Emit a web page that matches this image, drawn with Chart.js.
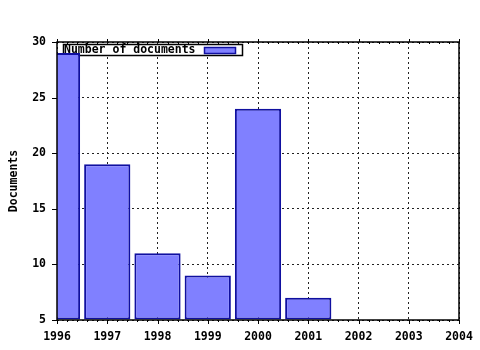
<!DOCTYPE html>
<html>
<head>
<meta charset="utf-8">
<script src="https://cdn.jsdelivr.net/npm/chart.js@4"></script>
<style>
  body { margin: 0; background: #fff; }
</style>
</head>
<body>
<canvas id="c" width="480" height="350"></canvas>
<script>
// dados
const anos = [1996, 1997, 1998, 1999, 2000, 2001];
const documentos = [29, 19, 11, 9, 24, 7];
const serieLabel = 'Number of documents';
const eixoY = 'Documents';

const fonte = '"DejaVu Sans Mono", monospace';
const corBarra = '#8080ff';
const corBorda = '#1010a0';

// moldura, ticks menores e legenda no estilo gnuplot
const molduraPlugin = {
  id: 'moldura',
  beforeDatasetsDraw(chart) {
    const ctx = chart.ctx;
    const a = chart.chartArea;
    ctx.save();
    // caixa da legenda
    const bx = a.left + 6.5, by = a.top + 2.5, bw = 179, bh = 11;
    ctx.fillStyle = '#fff';
    ctx.fillRect(bx, by, bw, bh);
    ctx.strokeStyle = '#000';
    ctx.lineWidth = 1.5;
    ctx.strokeRect(bx, by, bw, bh);
    ctx.fillStyle = '#000';
    ctx.font = 'bold 11.5px ' + fonte;
    ctx.textBaseline = 'middle';
    ctx.fillText(serieLabel, bx + 0.5, by + bh / 2 + 0.5);
    ctx.fillStyle = corBarra;
    ctx.fillRect(bx + 141, by + 3, 31, 6);
    ctx.strokeStyle = corBorda;
    ctx.strokeRect(bx + 141, by + 3, 31, 6);
    ctx.restore();
  },
  afterDatasetsDraw(chart) {
    const ctx = chart.ctx;
    const a = chart.chartArea;
    const x = chart.scales.x;
    const y = chart.scales.y;
    ctx.save();
    ctx.strokeStyle = '#000';
    ctx.lineWidth = 1.5;
    ctx.strokeRect(a.left, a.top, a.right - a.left, a.bottom - a.top);
    ctx.lineWidth = 1;
    ctx.beginPath();
    for (let v = x.min; v <= x.max + 1e-9; v += 0.2) {
      const px = Math.round(x.getPixelForValue(v)) + 0.5;
      const major = Math.abs(v - Math.round(v)) < 1e-6;
      if (major) {
        ctx.moveTo(px, a.bottom); ctx.lineTo(px, a.bottom + 4);
        ctx.moveTo(px, a.top); ctx.lineTo(px, a.top - 3);
      } else {
        ctx.moveTo(px, a.bottom); ctx.lineTo(px, a.bottom + 2);
        ctx.moveTo(px, a.top); ctx.lineTo(px, a.top + 2);
      }
    }
    for (let v = y.min; v <= y.max; v += 5) {
      const py = Math.round(y.getPixelForValue(v)) + 0.5;
      ctx.moveTo(a.left, py); ctx.lineTo(a.left - 5, py);
    }
    ctx.stroke();
    ctx.restore();
  }
};

new Chart(document.getElementById('c'), {
  type: 'bar',
  data: {
    datasets: [{
      label: serieLabel,
      data: anos.map((ano, i) => ({ x: ano, y: documentos[i] })),
      backgroundColor: corBarra,
      borderColor: corBorda,
      borderWidth: 2,
      borderSkipped: false,
      base: 5,
      barPercentage: 0.92,
      categoryPercentage: 1
    }]
  },
  options: {
    responsive: false,
    animation: false,
    devicePixelRatio: 1,
    layout: { padding: { top: 42, right: 21, left: 0, bottom: 0 } },
    plugins: {
      legend: { display: false },
      tooltip: { enabled: false }
    },
    scales: {
      x: {
        type: 'linear',
        min: 1996,
        max: 2004,
        offset: false,
        afterFit: s => { s.height = 30; s.paddingLeft = 0; s.paddingRight = 0; },
        grid: { offset: false, color: '#222', lineWidth: 1, drawTicks: false },
        border: { display: false, dash: [2, 3] },
        ticks: {
          stepSize: 1,
          padding: 10,
          color: '#000',
          font: { family: fonte, size: 11.5, weight: 'bold' },
          callback: v => String(v)
        }
      },
      y: {
        min: 5,
        max: 30,
        afterFit: s => { s.width = 57; s.paddingTop = 0; s.paddingBottom = 0; },
        grid: { color: '#222', lineWidth: 1, drawTicks: false },
        border: { display: false, dash: [2, 3] },
        title: {
          display: true,
          text: eixoY,
          color: '#000',
          padding: { top: 7, bottom: 0 },
          font: { family: fonte, size: 11.5, weight: 'bold' }
        },
        ticks: {
          stepSize: 5,
          padding: 11,
          color: '#000',
          font: { family: fonte, size: 11.5, weight: 'bold' }
        }
      }
    }
  },
  plugins: [molduraPlugin]
});
</script>
</body>
</html>
